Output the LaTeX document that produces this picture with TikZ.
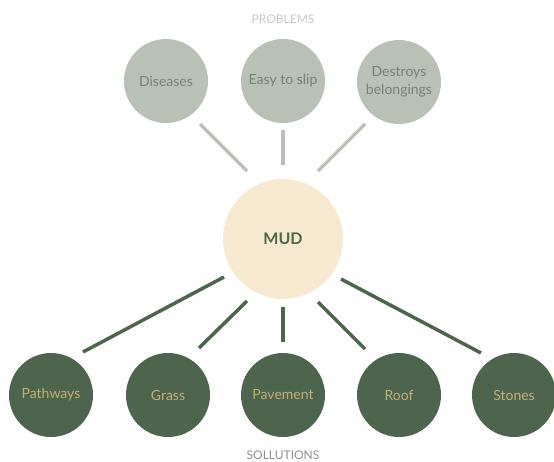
\documentclass[tikz,border=0pt]{standalone}
\usepackage{fontspec}
\setmainfont{Lato}
\usetikzlibrary{calc}
\definecolor{probfill}{HTML}{B9C1B6}
\definecolor{probtext}{HTML}{76817A}
\definecolor{mudfill}{HTML}{F7E9D0}
\definecolor{darkgreen}{HTML}{4D654D}
\definecolor{soltext}{HTML}{C4AE78}
\definecolor{headgray}{HTML}{C5C9C3}
\definecolor{footgray}{HTML}{8E8E8E}
\tikzset{
  prob/.style={circle, fill=probfill, minimum size=84pt, inner sep=0pt, text=probtext, font=\fontsize{14}{15}\selectfont, align=center},
  sol/.style={circle, fill=darkgreen, minimum size=84pt, inner sep=0pt, text=soltext, font=\fontsize{14}{15}\selectfont, align=center},
  mud/.style={circle, fill=mudfill, minimum size=120pt, inner sep=0pt, text=darkgreen, font=\bfseries\fontsize{16}{18}\selectfont},
  problink/.style={draw=probfill, line width=3.5pt},
  sollink/.style={draw=darkgreen, line width=3.5pt},
  heading/.style={font=\fontsize{12}{13}\selectfont}
}
\begin{document}
\begin{tikzpicture}[x=1pt,y=-1pt]
\useasboundingbox (0,0) rectangle (554,461);
\node[heading, text=headgray] (ph) at (283,19) {PROBLEMS};
\node[prob] (p1) at (166,81) {Diseases};
\node[prob] (p2) at (283,81) {Easy to slip};
\node[prob] (p3) at (399,82) {Destroys\\[3pt]belongings};
\node[mud] (m) at (283,239) {MUD};
\node[sol] (s1) at (51,395) {Pathways};
\node[sol] (s2) at (168,395) {Grass};
\node[sol] (s3) at (283,395) {Pavement};
\node[sol] (s4) at (399,395) {Roof};
\node[sol] (s5) at (514,395) {Stones};
\node[heading, text=footgray] (sh) at (283,455) {SOLLUTIONS};
\draw[problink] ($(p1)+(34,43)$) -- ($(m)+(-36,-68)$);
\draw[problink] ($(p2)+(0,49)$) -- ($(m)+(0,-74)$);
\draw[problink] ($(p3)+(-34,42)$) -- ($(m)+(35,-68)$);
\draw[sollink] ($(s1)+(32,-43)$) -- ($(m)+(-59,38)$);
\draw[sollink] ($(s2)+(31,-47)$) -- ($(m)+(-36,62)$);
\draw[sollink] ($(s3)+(0,-53)$) -- ($(m)+(0,68)$);
\draw[sollink] ($(s4)+(-34,-46)$) -- ($(m)+(35,63)$);
\draw[sollink] ($(s5)+(-33,-42)$) -- ($(m)+(58,40)$);
\end{tikzpicture}
\end{document}
